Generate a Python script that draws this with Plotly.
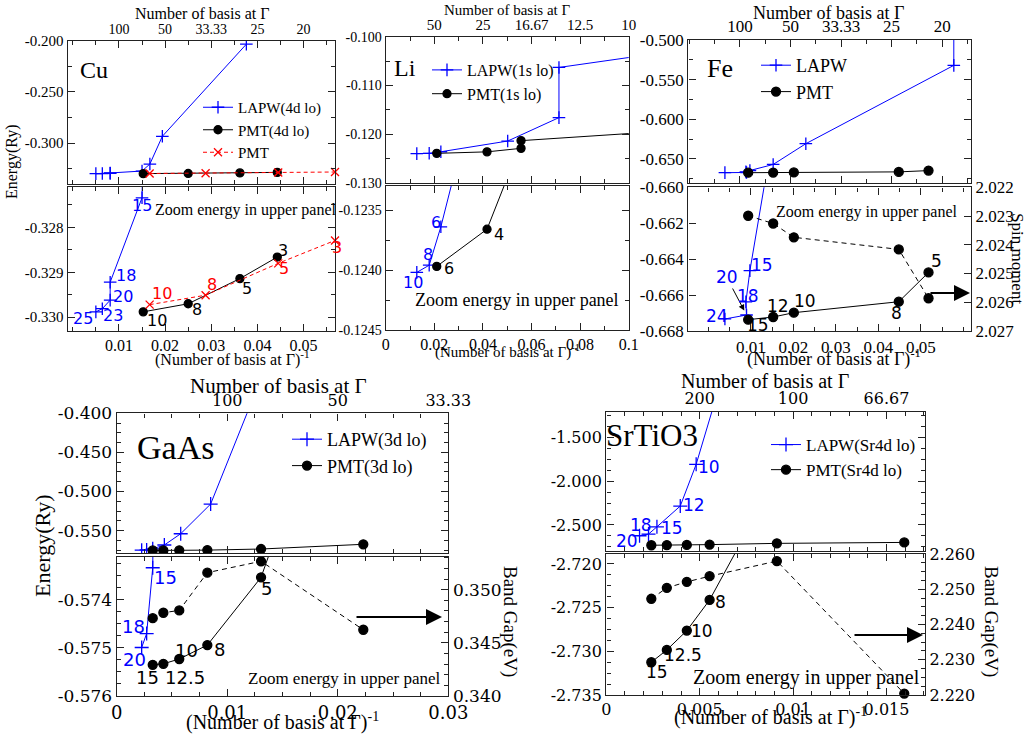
import plotly.graph_objects as go

W, H = 1035, 738
BLUE, RED, BLACK = '#0000ff', '#ff0000', '#000000'
SERIF = 'Liberation Serif'
DSERIF = 'DejaVu Serif'
SANS = 'DejaVu Sans'

# ------------------------------------------------------------------ data
# Cu
cu_lapw_x = [0.0050, 0.0064, 0.0081, 0.0081, 0.0150, 0.0167, 0.0194, 0.0376]
cu_lapw_y = [-0.32988, -0.32981, -0.32962, -0.32922, -0.32734, -0.3205, -0.2934, -0.2034]
cu_lapw_lbl = ['25', '23', '20', '18', '15']
cu_pmtlo_x = [0.01526, 0.0250, 0.0362, 0.0443]
cu_pmtlo_y = [-0.32988, -0.32970, -0.32914, -0.32866]
cu_pmtlo_lbl = ['10', '8', '5', '3']
cu_pmt_x = [0.01665, 0.02877, 0.0445, 0.0568]
cu_pmt_y = [-0.32972, -0.32951, -0.3288, -0.32829]
cu_pmt_lbl = ['10', '8', '5', '3']
cu_top_vals = [0.01, 0.02, 0.03, 0.04, 0.05]
cu_top_text = ['100', '50', '33.33', '25', '20']
cu_bot_vals = [0.01, 0.02, 0.03, 0.04, 0.05]
cu_bot_text = ['0.01', '0.02', '0.03', '0.04', '0.05']

# Li
li_lapw_x = [0.0128, 0.0179, 0.0227, 0.0502, 0.0713, 0.0713, 0.125]
li_lapw_y = [-0.12402, -0.12396, -0.12364, -0.12144, -0.11663, -0.10632, -0.1025]
li_lapw_lbl = ['10', '8', '6']
li_pmt_x = [0.021, 0.0417, 0.0557, 0.0557, 0.125]
li_pmt_y = [-0.12397, -0.12366, -0.12294, -0.12136, -0.11908]
li_pmt_lbl = ['6', '4']
li_top_vals = [0.02, 0.04, 0.06, 0.08, 0.1]
li_top_text = ['50', '25', '16.67', '12.5', '10']
li_bot_vals = [0, 0.02, 0.04, 0.06, 0.08, 0.1]
li_bot_text = ['0', '0.02', '0.04', '0.06', '0.08', '0.1']

# Fe
fe_lapw_x = [0.00704, 0.01132, 0.01119, 0.01198, 0.01658, 0.02304, 0.0523, 0.0523]
fe_lapw_y = [-0.66733, -0.66711, -0.66638, -0.66464, -0.657, -0.6308, -0.532, -0.45]
fe_lapw_lbl = ['24', '20', '18', '15']
fe_pmt_x = [0.01164, 0.01658, 0.02067, 0.04142, 0.0473]
fe_pmt_y = [-0.66737, -0.66722, -0.66698, -0.66637, -0.66474]
fe_pmt_lbl = ['15', '12', '10', '8', '5']
fe_spin = [2.02299, 2.02326, 2.02374, 2.02416, 2.02586]
fe_top_vals = [0.01, 0.02, 0.03, 0.04, 0.05]
fe_top_text = ['100', '50', '33.33', '25', '20']
fe_bot_vals = [0.01, 0.02, 0.03, 0.04, 0.05]
fe_bot_text = ['0.01', '0.02', '0.03', '0.04', '0.05']

# GaAs
ga_lapw_x = [0.00226, 0.00271, 0.00326, 0.00431, 0.00579, 0.0085, 0.0125]
ga_lapw_y = [-0.57499, -0.5747, -0.57333, -0.5684, -0.554, -0.516, -0.375]
ga_lapw_lbl = ['20', '18', '15']
ga_pmt_x = [0.00326, 0.00422, 0.00566, 0.0082, 0.01306, 0.02231]
ga_pmt_y = [-0.57535, -0.57533, -0.57523, -0.57494, -0.57353, -0.5675]
ga_pmt_lbl = ['15', '12.5', '10', '8', '5']
ga_gap = [0.34732, 0.34783, 0.34805, 0.3516, 0.35267, 0.34623]
ga_top_vals = [0.01, 0.02, 0.03]
ga_top_text = ['100', '50', '33.33']
ga_bot_vals = [0, 0.01, 0.02, 0.03]
ga_bot_text = ['0', '0.01', '0.02', '0.03']

# SrTiO3
st_lapw_x = [0.00178, 0.00226, 0.00271, 0.00396, 0.00481, 0.0065]
st_lapw_y = [-2.623, -2.604, -2.521, -2.284, -1.808, -0.60]
st_lapw_lbl = ['20', '18', '15', '12', '10']
st_pmt_x = [0.00241, 0.00324, 0.00431, 0.00553, 0.00913, 0.01595]
st_pmt_y = [-2.73125, -2.72984, -2.72763, -2.72412, -2.710, -2.699]
st_pmt_lbl = ['15', '12.5', '10', '8']
st_gap = [2.2473, 2.2504, 2.2521, 2.2537, 2.258, 2.2204]
st_top_vals = [0.005, 0.01, 0.015]
st_top_text = ['200', '100', '66.67']
st_bot_vals = [0, 0.005, 0.01, 0.015]
st_bot_text = ['0', '0.005', '0.01', '0.015']

# ------------------------------------------------------------------ label offsets (pixels, +dy = down)
cu_lapw_off = [(-12.7, 6.6), (11, 6.7), (12.7, -3.3), (16, -6.6), (0, 7.7)]
cu_pmtlo_off = [(13.4, 8.3), (8.4, 5.6), (6.7, 9.6), (5.4, -6.3)]
cu_pmt_off = [(12, -11), (6, -11), (6, 5), (1.7, 6.7)]
li_lapw_off = [(-3.7, 10), (-1, -11), (-5.3, -4)]
li_pmt_off = [(12.6, 2.3), (12.3, 5)]
fe_lapw_off = [(-8.3, -3), (-20, -38), (2.3, -6), (11.7, -5.7)]
fe_lapw_arrow = [False, True, False, False]
fe_pmt_off = [(10, 5), (5, -10.6), (11, -11.3), (-2.3, 11.3), (8, -11.7)]
ga_lapw_off = [(-6.7, 11.6), (-13.4, -7.3), (13, 9.4)]
ga_pmt_off = [(-5, 12.7), (21.7, 13.7), (7.4, -8.6), (11.7, 4.3), (5, 11)]
st_lapw_off = [(-12.6, 5), (-7.6, -9), (15, 1), (13.3, -1), (13.3, 3)]
st_pmt_off = [(5.7, 9.4), (16.6, 5), (15, 0), (10.7, 1.7)]


def xid(n):
    return 'x' if n == 1 else f'x{n}'


def yid(n):
    return 'y' if n == 1 else f'y{n}'


def xkey(n):
    return 'xaxis' if n == 1 else f'xaxis{n}'


def ykey(n):
    return 'yaxis' if n == 1 else f'yaxis{n}'


def dx(a, b):
    return [a / W, b / W]


def dy(top, bot):
    return [1 - bot / H, 1 - top / H]


fig = go.Figure()


def series(x, y, n, color, symbol, size, name=None, legend=None, dash='solid',
           clip=True, yn=None):
    fig.add_trace(go.Scatter(
        x=x, y=y, xaxis=xid(n), yaxis=yid(yn if yn else n), mode='lines+markers',
        name=name, line=dict(color=color, width=1, dash=dash),
        marker=dict(symbol=symbol, size=size, color=color,
                    line=dict(color=color, width=1.3)),
        showlegend=legend is not None, legend=legend if legend else 'legend',
        cliponaxis=clip))


annos = []


def labels(x, y, lbls, offs, n, color, size, arrows=None):
    for i, t in enumerate(lbls):
        ox, oy = offs[i]
        if arrows and arrows[i]:
            annos.append(dict(x=x[i], y=y[i], xref=xid(n), yref=yid(n), text=t,
                              showarrow=True, ax=ox, ay=oy, arrowhead=2, arrowsize=1.2,
                              arrowwidth=1, arrowcolor=BLACK, standoff=5,
                              font=dict(family=SANS, size=size, color=color)))
        else:
            annos.append(dict(x=x[i], y=y[i], xref=xid(n), yref=yid(n), text=t,
                              showarrow=False, xshift=ox, yshift=-oy,
                              font=dict(family=SANS, size=size, color=color)))


def text(px, py, t, size, family=SERIF, color=BLACK, angle=0):
    annos.append(dict(x=px / W, y=1 - py / H, xref='paper', yref='paper', text=t,
                      showarrow=False, textangle=angle, xanchor='center',
                      yanchor='middle', font=dict(family=family, size=size, color=color)))


def arrow(x0, x1, py):
    annos.append(dict(x=x1 / W, y=1 - py / H, xref='paper', yref='paper', text='',
                      showarrow=True, ax=x0 - x1, ay=0, arrowhead=2, arrowsize=1.6,
                      arrowwidth=2, arrowcolor=BLACK))


DASH_RED = '4px,3px'
DASH_BLK = '5px,4px'

# ------------------------------------------------------------------ traces
# Cu
for n in (1, 2):
    series(cu_lapw_x, cu_lapw_y, n, BLUE, 'cross-thin', 9,
           name='LAPW(4d lo)', legend='legend' if n == 1 else None)
    series(cu_pmtlo_x, cu_pmtlo_y, n, BLACK, 'circle', 8,
           name='PMT(4d lo)', legend='legend' if n == 1 else None)
    series(cu_pmt_x, cu_pmt_y, n, RED, 'x-thin', 8, dash=DASH_RED, clip=False,
           name='PMT', legend='legend' if n == 1 else None)
labels(cu_lapw_x, cu_lapw_y, cu_lapw_lbl, cu_lapw_off, 2, BLUE, 16)
labels(cu_pmtlo_x, cu_pmtlo_y, cu_pmtlo_lbl, cu_pmtlo_off, 2, BLACK, 16)
labels(cu_pmt_x, cu_pmt_y, cu_pmt_lbl, cu_pmt_off, 2, RED, 16)

# Li
for n in (3, 4):
    series(li_lapw_x, li_lapw_y, n, BLUE, 'cross-thin', 9,
           name='LAPW(1s lo)', legend='legend2' if n == 3 else None)
    series(li_pmt_x, li_pmt_y, n, BLACK, 'circle', 8,
           name='PMT(1s lo)', legend='legend2' if n == 3 else None)
labels(li_lapw_x, li_lapw_y, li_lapw_lbl, li_lapw_off, 4, BLUE, 16)
labels(li_pmt_x, li_pmt_y, li_pmt_lbl, li_pmt_off, 4, BLACK, 16)

# Fe
for n in (5, 6):
    series(fe_lapw_x, fe_lapw_y, n, BLUE, 'cross-thin', 9,
           name='LAPW', legend='legend3' if n == 5 else None)
    series(fe_pmt_x, fe_pmt_y, n, BLACK, 'circle', 9,
           name='PMT', legend='legend3' if n == 5 else None)
series(fe_pmt_x, fe_spin, 6, BLACK, 'circle', 9, dash=DASH_BLK, yn=11, clip=False)
fig.add_trace(go.Scatter(x=[None], y=[None], xaxis='x11', yaxis='y6', showlegend=False))
labels(fe_lapw_x, fe_lapw_y, fe_lapw_lbl, fe_lapw_off, 6, BLUE, 17, fe_lapw_arrow)
labels(fe_pmt_x, fe_pmt_y, fe_pmt_lbl, fe_pmt_off, 6, BLACK, 17)

# GaAs
for n in (7, 8):
    series(ga_lapw_x, ga_lapw_y, n, BLUE, 'cross-thin', 10,
           name='LAPW(3d lo)', legend='legend4' if n == 7 else None)
    series(ga_pmt_x, ga_pmt_y, n, BLACK, 'circle', 9,
           name='PMT(3d lo)', legend='legend4' if n == 7 else None)
series(ga_pmt_x, ga_gap, 8, BLACK, 'circle', 9, dash=DASH_BLK, yn=12, clip=False)
labels(ga_lapw_x, ga_lapw_y, ga_lapw_lbl, ga_lapw_off, 8, BLUE, 18)
labels(ga_pmt_x, ga_pmt_y, ga_pmt_lbl, ga_pmt_off, 8, BLACK, 18)

# SrTiO3
for n in (9, 10):
    series(st_lapw_x, st_lapw_y, n, BLUE, 'cross-thin', 10,
           name='LAPW(Sr4d lo)', legend='legend5' if n == 9 else None)
    series(st_pmt_x, st_pmt_y, n, BLACK, 'circle', 9,
           name='PMT(Sr4d lo)', legend='legend5' if n == 9 else None)
series(st_pmt_x, st_gap, 10, BLACK, 'circle', 9, dash=DASH_BLK, yn=13, clip=False)
labels(st_lapw_x, st_lapw_y, st_lapw_lbl, st_lapw_off, 9, BLUE, 17)
labels(st_pmt_x, st_pmt_y, st_pmt_lbl, st_pmt_off, 10, BLACK, 17)

# ------------------------------------------------------------------ axes
LC = '#222222'


def base(font, size):
    return dict(showline=True, linecolor=LC, linewidth=1.4, ticks='inside', ticklen=7,
                tickwidth=1.2, tickcolor=LC, showgrid=False, zeroline=False,
                mirror='ticks', tickfont=dict(family=font, size=size, color=BLACK))


def minor(d):
    return dict(ticks='inside', ticklen=4, tickwidth=1, tickcolor=LC, dtick=d, showgrid=False)


L = {}


def panel(n, xd, yd, xr, yr, xvals, xtext, xside, yvals, yfmt, fx, fy, sx, sy,
          xminor=None, yminor=None, ymirror='ticks', xshow=True):
    xa = base(fx, sx)
    xa.update(domain=dx(*xd), range=xr, anchor=yid(n), side=xside,
              tickmode='array', tickvals=xvals, ticktext=xtext)
    if xminor:
        xa['minor'] = minor(xminor)
    if not xshow:
        xa.update(ticks='', showticklabels=False, mirror=True)
        xa.pop('minor', None)
    ya = base(fy, sy)
    ya.update(domain=dy(*yd), range=yr, anchor=xid(n), side='left',
              tickmode='array', tickvals=yvals,
              ticktext=[format(v, yfmt) for v in yvals], mirror=ymirror)
    if yminor:
        ya['minor'] = minor(yminor)
    L[xkey(n)] = xa
    L[ykey(n)] = ya


def right_axis(n, over, xanchor, rng, vals, fmt, font, size, mnr=None):
    ya = base(font, size)
    ya.update(overlaying=yid(over), anchor=xid(xanchor), side='right', range=rng,
              tickmode='array', tickvals=vals, ticktext=[format(v, fmt) for v in vals],
              mirror=False)
    if mnr:
        ya['minor'] = minor(mnr)
    L[ykey(n)] = ya


CU_X = (67.7, 335)
LI_X = (385.7, 628.7)
FE_X = (688.3, 971)
GA_X = (116.7, 448.3)
ST_X = (606.3, 925)

# Cu
panel(1, CU_X, (40.7, 184), [-0.0011, 0.0568], [-0.34, -0.2], cu_top_vals, cu_top_text,
      'top', [-0.2, -0.25, -0.3], '.3f', SERIF, SERIF, 14, 15, xminor=0.005, yminor=0.025)
panel(2, CU_X, (187, 330.7), [-0.0011, 0.0568], [-0.3303, -0.3271], cu_bot_vals,
      cu_bot_text, 'bottom', [-0.328, -0.329, -0.330], '.3f', SERIF, SERIF, 16, 15,
      xminor=0.005, yminor=0.0005)
# Li
panel(3, LI_X, (36.7, 182.7), [0, 0.1], [-0.13, -0.10], li_top_vals, li_top_text, 'top',
      [-0.10, -0.11, -0.12, -0.13], '.3f', SERIF, SERIF, 15, 14, xminor=0.01, yminor=0.005)
panel(4, LI_X, (186, 330), [0, 0.1], [-0.1245, -0.1233], li_bot_vals, li_bot_text,
      'bottom', [-0.1235, -0.1240, -0.1245], '.4f', SERIF, SERIF, 16, 14, xminor=0.01,
      yminor=0.00025)
# Fe
panel(5, FE_X, (40, 182.7), [-0.0002, 0.0557], [-0.68, -0.5], fe_top_vals, fe_top_text,
      'top', [-0.5, -0.55, -0.6, -0.65], '.3f', SERIF, SERIF, 17, 17, xminor=0.005,
      yminor=0.025)
panel(6, FE_X, (187.3, 331), [-0.0002, 0.0557], [-0.668, -0.660], [], [], 'bottom',
      [-0.660, -0.662, -0.664, -0.666, -0.668], '.3f', SERIF, SERIF, 17, 17,
      ymirror=True, xshow=False)
xa = base(SERIF, 17)
xa.update(overlaying='x6', anchor='y6', side='bottom', range=[-0.0047, 0.0618],
          tickmode='array', tickvals=fe_bot_vals, ticktext=fe_bot_text,
          minor=minor(0.005))
L['xaxis11'] = xa
right_axis(11, 6, 6, [2.027, 2.022], [2.022, 2.023, 2.024, 2.025, 2.026, 2.027], '.3f',
           SERIF, 17)
# GaAs
panel(7, GA_X, (413.3, 553.3), [0, 0.03], [-0.579, -0.4], ga_top_vals, ga_top_text,
      'top', [-0.4, -0.45, -0.5, -0.55], '.3f', DSERIF, DSERIF, 16, 17, xminor=0.0025,
      yminor=0.0125)
panel(8, GA_X, (556.7, 696), [0, 0.03], [-0.576, -0.5731], ga_bot_vals, ga_bot_text,
      'bottom', [-0.574, -0.575, -0.576], '.3f', DSERIF, DSERIF, 18, 17, xminor=0.0025,
      yminor=0.00025, ymirror=True)
right_axis(12, 8, 8, [0.34, 0.3531], [0.340, 0.345, 0.350], '.3f', DSERIF, 17, mnr=0.001)
# SrTiO3
panel(9, ST_X, (411.7, 551), [0, 0.01706], [-2.797, -1.208], st_top_vals, st_top_text,
      'top', [-1.5, -2.0, -2.5], '.3f', DSERIF, DSERIF, 16, 16, xminor=0.001,
      yminor=0.125)
panel(10, ST_X, (554, 695), [0, 0.01706], [-2.735, -2.71886], st_bot_vals, st_bot_text,
      'bottom', [-2.720, -2.725, -2.730, -2.735], '.3f', DSERIF, DSERIF, 16, 16,
      xminor=0.001, yminor=0.00125, ymirror=True)
right_axis(13, 10, 10, [2.22, 2.26], [2.220, 2.230, 2.240, 2.250, 2.260], '.3f', DSERIF,
           16, mnr=0.0025)

# ------------------------------------------------------------------ titles / notes
G = 'Γ'
text(202, 13, 'Number of basis at ' + G, 16)
text(507, 10, 'Number of basis at ' + G, 15)
text(828, 13, 'Number of basis at ' + G, 18)
text(278, 386, 'Number of basis at ' + G, 21)
text(765, 381, 'Number of basis at ' + G, 20)
XT = '(Number of basis at ' + G + ')<sup>-1</sup>'
text(232, 358, XT, 16)
text(507, 351, XT, 15)
text(834, 358, XT, 18)
text(282, 721, XT, 20)
text(770, 716, XT, 20)
text(12, 162, 'Energy(Ry)', 16, angle=-90)
text(42, 546, 'Energy(Ry)', 22, angle=-90)
text(1018, 258, 'Spin moment', 17, angle=90)
text(510, 621, 'Band Gap(eV)', 19, angle=90)
text(991, 621, 'Band Gap(eV)', 19, angle=90)
text(94, 70, 'Cu', 24)
text(405, 68, 'Li', 24)
text(720, 68, 'Fe', 26)
text(175, 447, 'GaAs', 34)
text(652, 435, 'SrTiO3', 31)
ZT = 'Zoom energy in upper panel'
text(246, 210, ZT, 16)
text(517, 300, ZT, 18)
text(867, 212, ZT, 16)
text(344, 678, ZT, 17)
text(806, 677, ZT, 20)
arrow(929, 970, 293)
arrow(355, 442, 617)
arrow(853, 923, 635)

# ------------------------------------------------------------------ legends


def leg(px, py, size):
    return dict(x=px / W, y=1 - py / H, xanchor='left', yanchor='top',
                bgcolor='rgba(0,0,0,0)', borderwidth=0, tracegroupgap=0,
                font=dict(family=SERIF, size=size, color=BLACK))


L['legend'] = leg(198, 91, 15)
L['legend2'] = leg(427, 53, 16)
L['legend3'] = leg(756, 47, 18)
L['legend4'] = leg(287, 421, 18)
L['legend5'] = leg(766, 427, 17)

fig.update_layout(width=W, height=H, autosize=False,
                  margin=dict(l=0, r=0, t=0, b=0, autoexpand=False),
                  paper_bgcolor='white', plot_bgcolor='white', annotations=annos,
                  **L)
fig.write_html('out.html', config={'displayModeBar': False},
               post_script="document.body.style.margin='0px';"
                           "document.body.style.padding='0px';")
